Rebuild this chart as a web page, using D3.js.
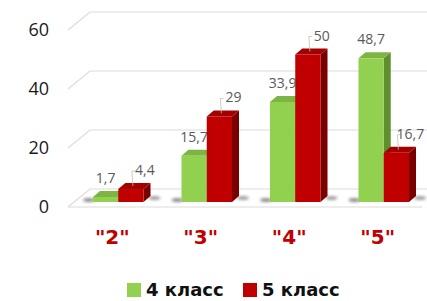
<!DOCTYPE html>
<html lang="ru">
<head>
<meta charset="UTF-8">
<title>Оценки</title>
<script src="https://d3js.org/d3.v7.min.js"></script>
<style>
  body { margin: 0; background: #fff; }
</style>
</head>
<body>
<div id="chart"></div>
<script>
// data
const categories = ['"2"', '"3"', '"4"', '"5"'];
const seriesNames = ["4 класс", "5 класс"];
const grade4 = [1.7, 15.7, 33.9, 48.7];
const grade5 = [4.4, 29, 50, 16.7];
const yTicks = [0, 20, 40, 60];

const colors = [
  { front: "#92d050", side: "#5f8f2c", top: "#7db443" },
  { front: "#c00000", side: "#7a0000", top: "#a30000" }
];

const width = 427, height = 301;
const wallDx = 22, wallDy = -18;   // depth of the back wall
const barDx = 7, barDy = -6;       // depth of a bar
const floorLift = 5;               // bars stand a bit behind the front edge

const svg = d3.select("#chart").append("svg")
  .attr("width", width)
  .attr("height", height)
  .style("font-family", "'Open Sans', sans-serif");

const defs = svg.append("defs");
defs.append("filter").attr("id", "blur")
  .attr("x", "-50%").attr("y", "-50%").attr("width", "200%").attr("height", "200%")
  .append("feGaussianBlur").attr("stdDeviation", 1.5);

const y = d3.scaleLinear().domain([0, 60]).range([207, 30]);
const x = d3.scaleBand().domain(categories).range([93, 409]).paddingInner(0.429).paddingOuter(0);
const xs = d3.scaleBand().domain(seriesNames).range([0, x.bandwidth()]);

// grid + walls
const grid = svg.append("g").attr("fill", "none").attr("stroke", "#dcdcdc").attr("stroke-width", 1.2);
yTicks.forEach(v => {
  const y0 = y(v);
  grid.append("path")
    .attr("d", `M68,${y0} L${68 + wallDx},${y0 + wallDy} L${width},${y0 + wallDy}`);
});
grid.append("path").attr("d", `M68,${y(0)} L422,${y(0)}`);

// y axis labels
svg.append("g")
  .attr("transform", "translate(68,0)")
  .call(d3.axisLeft(y).tickValues(yTicks).tickSize(0).tickPadding(19))
  .call(g => g.select(".domain").remove())
  .call(g => g.selectAll("text")
    .attr("font-size", 18)
    .attr("fill", "#1a1a1a")
    .style("font-family", "'Open Sans', sans-serif"));

// bars
const yBar = v => y(v) - floorLift;
const series = [grade4, grade5];
const bars = svg.append("g");

// floor shadows
categories.forEach(c => {
  const gx = x(c);
  const base = yBar(0);
  bars.append("ellipse")
    .attr("cx", gx - 4).attr("cy", base - 2).attr("rx", 6).attr("ry", 2)
    .attr("fill", "#444").attr("opacity", 0.6).attr("filter", "url(#blur)");
  bars.append("ellipse")
    .attr("cx", gx + x.bandwidth() + 11).attr("cy", base - 4).attr("rx", 6).attr("ry", 2)
    .attr("fill", "#444").attr("opacity", 0.5).attr("filter", "url(#blur)");
});

categories.forEach((c, i) => {
  series.forEach((vals, s) => {
    const v = vals[i];
    const x0 = x(c) + xs(seriesNames[s]);
    const w = xs.bandwidth();
    const yt = yBar(v), yb = yBar(0);
    const col = colors[s];
    // side
    bars.append("path")
      .attr("d", `M${x0 + w},${yb} L${x0 + w},${yt} L${x0 + w + barDx},${yt + barDy} L${x0 + w + barDx},${yb + barDy} Z`)
      .attr("fill", col.side);
    // top
    bars.append("path")
      .attr("d", `M${x0},${yt} L${x0 + barDx},${yt + barDy} L${x0 + w + barDx},${yt + barDy} L${x0 + w},${yt} Z`)
      .attr("fill", col.top);
    // front
    bars.append("rect")
      .attr("x", x0).attr("y", yt)
      .attr("width", w).attr("height", yb - yt)
      .attr("fill", col.front);
  });
});

// value labels
const labels = svg.append("g").attr("font-size", 14).attr("fill", "#595959").attr("text-anchor", "middle");
categories.forEach((c, i) => {
  series.forEach((vals, s) => {
    const v = vals[i];
    const cx = x(c) + xs(seriesNames[s]) + xs.bandwidth() / 2;
    const lx = cx + (s === 0 ? 0 : 14);
    const ly = yBar(v) - 14;
    const txt = String(v).replace(".", ",");
    if (s === 1) {
      labels.append("path")
        .attr("d", `M${lx - 10},${ly - 4} L${lx - 13},${ly - 4} L${cx + 2},${yBar(v) - 3}`)
        .attr("fill", "none").attr("stroke", "#bfbfbf").attr("stroke-width", 0.8);
    }
    labels.append("text").attr("x", lx).attr("y", ly).text(txt);
  });
});

// category labels
svg.append("g")
  .selectAll("text")
  .data(categories)
  .join("text")
  .attr("x", d => x(d) + x.bandwidth() / 2 - 6)
  .attr("y", 244)
  .attr("text-anchor", "middle")
  .attr("font-size", 20)
  .attr("font-weight", "bold")
  .attr("fill", "#c00000")
  .style("font-family", "'DejaVu Sans', sans-serif")
  .text(d => d);

// legend
const legend = svg.append("g").attr("transform", "translate(127,283)");
seriesNames.forEach((name, s) => {
  const g = legend.append("g").attr("transform", `translate(${s * 116},0)`);
  g.append("rect").attr("width", 14).attr("height", 14).attr("fill", colors[s].front);
  g.append("text")
    .attr("x", 19).attr("y", 13)
    .attr("font-size", 18)
    .attr("font-weight", "bold")
    .attr("fill", "#111")
    .style("font-family", "'DejaVu Sans', sans-serif")
    .text(name);
});
</script>
</body>
</html>
